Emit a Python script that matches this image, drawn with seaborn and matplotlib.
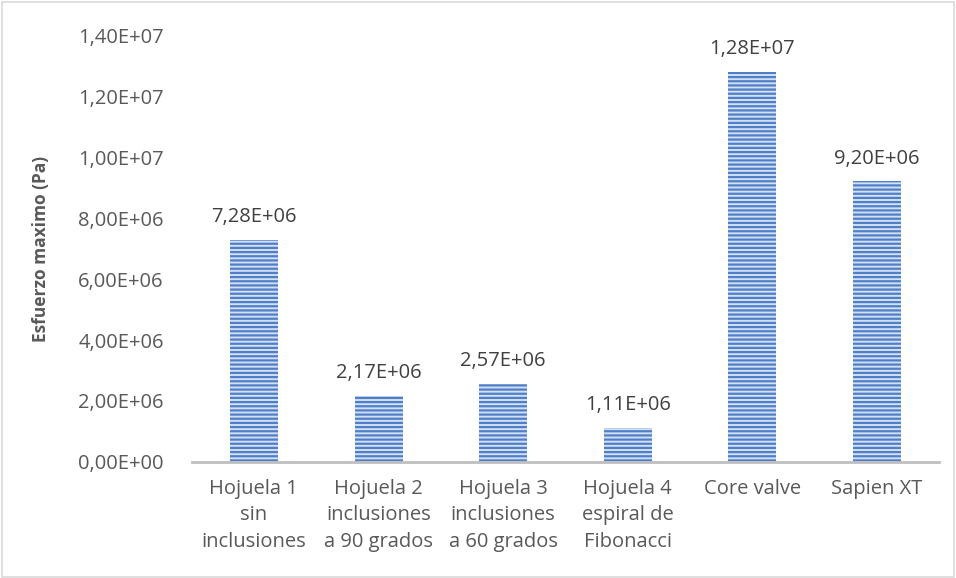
import pandas as pd
import matplotlib.pyplot as plt
import seaborn as sns
from matplotlib.patches import Rectangle

categorias = ['Hojuela 1\nsin\ninclusiones', 'Hojuela 2\ninclusiones\na 90 grados',
              'Hojuela 3\ninclusiones\na 60 grados', 'Hojuela 4\nespiral de\nFibonacci',
              'Core valve', 'Sapien XT']
esfuerzo = [7.28e6, 2.17e6, 2.57e6, 1.11e6, 1.28e7, 9.20e6]
yticks = [0, 2e6, 4e6, 6e6, 8e6, 1e7, 1.2e7, 1.4e7]


def fmt_sci(v):
    # formato tipo Excel con coma decimal
    return f'{v:.2E}'.replace('.', ',')


sns.set_theme(style='white')
plt.rcParams['font.family'] = ['Open Sans', 'DejaVu Sans']
plt.rcParams['hatch.linewidth'] = 1.6
plt.rcParams['hatch.color'] = '#4F7FC8'

df = pd.DataFrame({'Categoria': categorias, 'Esfuerzo': esfuerzo})

fig = plt.figure(figsize=(9.56, 5.78), dpi=100)
ax = fig.add_axes([0.2004, 0.2007, 0.7822, 0.7387])

sns.barplot(data=df, x='Categoria', y='Esfuerzo', ax=ax, width=0.385,
            color='#D3E0F3', saturation=1, edgecolor='#4F7FC8', linewidth=0)
for p in ax.patches:
    p.set_hatch('----')

for i, v in enumerate(esfuerzo):
    ax.text(i, v + 4.2e5, fmt_sci(v), ha='center', va='bottom',
            fontsize=14.5, color='#404040')

ax.set_ylim(0, 1.4e7)
ax.set_xlim(-0.5, len(categorias) - 0.5)
ax.set_yticks(yticks)
ax.set_yticklabels([fmt_sci(t) if t else '0,00E+00' for t in yticks])
ax.tick_params(axis='y', labelsize=14.5, colors='#595959', length=0, pad=20)
ax.tick_params(axis='x', labelsize=14.5, colors='#595959', length=0, pad=12)
for lbl in ax.get_xticklabels():
    lbl.set_linespacing(1.45)
ax.set_xlabel('')
ax.set_ylabel('Esfuerzo maximo (Pa)', fontsize=12.5, fontweight='bold',
              color='#595959', labelpad=20)

for s in ['top', 'right', 'left']:
    ax.spines[s].set_visible(False)
ax.spines['bottom'].set_color('#BFBFBF')
ax.spines['bottom'].set_linewidth(2)

# borde del area del grafico
fig.patches.append(Rectangle((0.002, 0.002), 0.996, 0.994, transform=fig.transFigure,
                             fill=False, edgecolor='#D9D9D9', linewidth=1.2))

fig.savefig('out.png', dpi=100)
